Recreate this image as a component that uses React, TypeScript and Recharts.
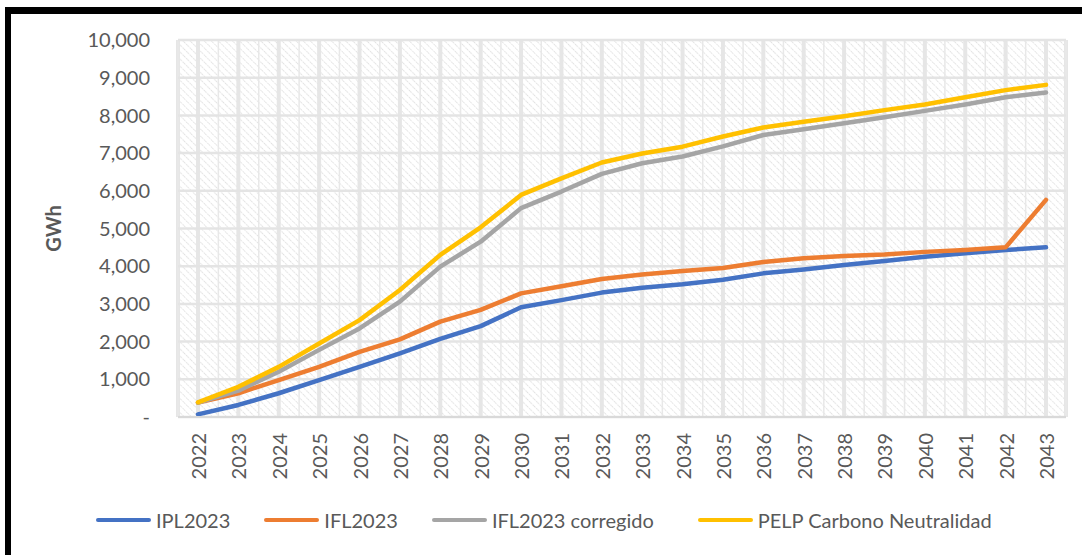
import { LineChart, Line, XAxis, YAxis, CartesianGrid } from 'recharts';

const years = [
  '2022', '2023', '2024', '2025', '2026', '2027', '2028', '2029', '2030', '2031', '2032',
  '2033', '2034', '2035', '2036', '2037', '2038', '2039', '2040', '2041', '2042', '2043',
];

// GWh
const ipl2023 = [
  70, 320, 630, 980, 1330, 1690, 2070, 2410, 2910, 3100, 3300,
  3430, 3520, 3640, 3810, 3910, 4030, 4140, 4250, 4340, 4430, 4500,
];
const ifl2023 = [
  380, 630, 980, 1330, 1730, 2060, 2530, 2840, 3280, 3470, 3660,
  3780, 3870, 3950, 4110, 4210, 4270, 4310, 4380, 4430, 4500, 5760,
];
const ifl2023Corregido = [
  380, 700, 1200, 1780, 2350, 3060, 3990, 4650, 5540, 5980, 6450,
  6730, 6910, 7180, 7480, 7630, 7790, 7950, 8120, 8290, 8480, 8610,
];
const pelpCarbono = [
  390, 800, 1330, 1950, 2570, 3370, 4300, 5030, 5890, 6330, 6750,
  6990, 7170, 7440, 7680, 7830, 7980, 8140, 8290, 8480, 8670, 8810,
];

const yTicks = [0, 1000, 2000, 3000, 4000, 5000, 6000, 7000, 8000, 9000, 10000];

const series = [
  { key: 'ipl', name: 'IPL2023', color: '#4472C4' },
  { key: 'ifl', name: 'IFL2023', color: '#ED7D31' },
  { key: 'iflc', name: 'IFL2023 corregido', color: '#A5A5A5' },
  { key: 'pelp', name: 'PELP Carbono Neutralidad', color: '#FFC000' },
];

const data = years.map((year, i) => ({
  year,
  ipl: ipl2023[i],
  ifl: ifl2023[i],
  iflc: ifl2023Corregido[i],
  pelp: pelpCarbono[i],
}));

const FONT = 'Lato, "Open Sans", sans-serif';
const TEXT = '#595959';

function formatY(v: number) {
  if (v === 0) return '-';
  return v.toLocaleString('en-US');
}

// Etiquetas del eje X giradas 90°
function YearTick(props: any) {
  const { x, y, payload } = props;
  return (
    <text
      x={x}
      y={y}
      transform={`rotate(-90, ${x}, ${y})`}
      textAnchor="end"
      dominantBaseline="central"
      fill={TEXT}
      fontSize={20}
      fontFamily={FONT}
    >
      {payload.value}
    </text>
  );
}

// líneas entre categorías (bordes de cada banda)
function boundaryLines({ offset }: any) {
  const n = years.length;
  const out: number[] = [];
  for (let i = 0; i <= n; i++) out.push(offset.left + (i * offset.width) / n);
  return out;
}

export default function App() {
  return (
    <div style={{ position: 'absolute', left: 0, top: 0, width: 1082, height: 555, overflow: 'hidden', background: '#fff' }}>
      <div
        style={{
          position: 'absolute',
          left: 5,
          top: 7,
          width: 1090,
          height: 560,
          borderTop: '7px solid #000',
          borderLeft: '6px solid #000',
        }}
      />
      <div style={{ position: 'absolute', left: 0, top: 0 }}>
        <LineChart width={1082} height={555} data={data} margin={{ top: 40, right: 16, bottom: 63, left: 0 }}>
          <defs>
            <pattern id="hatch" width="5" height="5" patternUnits="userSpaceOnUse" patternTransform="rotate(-45)">
              <rect width="5" height="5" fill="#ffffff" />
              <line x1="0" y1="0" x2="0" y2="5" stroke="#dcdcdc" strokeWidth="1.7" strokeDasharray="1.6 1.2" />
            </pattern>
          </defs>
          <CartesianGrid fill="url(#hatch)" horizontal={false} vertical={false} />
          <CartesianGrid horizontal={false} vertical stroke="#e6e6e6" strokeWidth={4} />
          <CartesianGrid
            horizontal={false}
            vertical
            stroke="#e8e8e8"
            strokeWidth={1.5}
            verticalCoordinatesGenerator={boundaryLines}
          />
          <CartesianGrid horizontal vertical={false} stroke="#e4e4e4" strokeWidth={2.5} syncWithTicks />
          <XAxis
            dataKey="year"
            interval={0}
            height={75}
            padding={{ left: 20, right: 20 }}
            axisLine={{ stroke: '#d9d9d9', strokeWidth: 2 }}
            tickLine={false}
            tickSize={0}
            tickMargin={16}
            tick={<YearTick />}
          />
          <YAxis
            width={178}
            domain={[0, 10000]}
            ticks={yTicks}
            tickFormatter={formatY}
            axisLine={false}
            tickLine={false}
            tickSize={0}
            tickMargin={28}
            tick={{ fill: TEXT, fontSize: 20, fontFamily: FONT }}
            label={{
              value: 'GWh',
              angle: -90,
              position: 'insideLeft',
              offset: 54,
              style: { fill: TEXT, fontSize: 20, fontWeight: 700, fontFamily: FONT, textAnchor: 'middle' },
            }}
          />
          {series.map((s) => (
            <Line
              key={s.key}
              type="linear"
              dataKey={s.key}
              name={s.name}
              stroke={s.color}
              strokeWidth={4.5}
              strokeLinecap="round"
              strokeLinejoin="round"
              dot={false}
              activeDot={false}
              isAnimationActive={false}
            />
          ))}
        </LineChart>
      </div>
      {/* leyenda */}
      <div
        style={{
          position: 'absolute',
          left: 96,
          top: 508,
          display: 'flex',
          alignItems: 'center',
          fontFamily: FONT,
          fontSize: 20,
          color: TEXT,
          whiteSpace: 'nowrap',
        }}
      >
        {series.map((s, i) => (
          <div
            key={s.key}
            style={{ display: 'flex', alignItems: 'center', marginRight: i < 2 ? 34 : i === 2 ? 44 : 0 }}
          >
            <span
              style={{
                display: 'inline-block',
                width: 55,
                height: 4.5,
                borderRadius: 3,
                background: s.color,
                marginRight: 5,
              }}
            />
            <span>{s.name}</span>
          </div>
        ))}
      </div>
    </div>
  );
}
